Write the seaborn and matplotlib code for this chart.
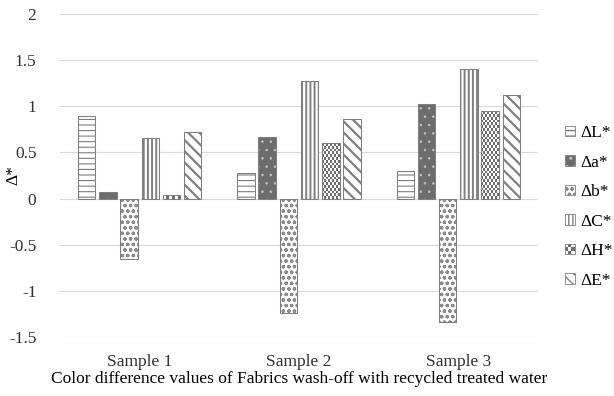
import numpy as np
import pandas as pd
import matplotlib
matplotlib.use("Agg")
import matplotlib.pyplot as plt
import matplotlib.colors as mcolors
from matplotlib.patches import Rectangle, Patch
from matplotlib.legend_handler import HandlerBase
import seaborn as sns

# ---------------- data ----------------
samples = ["Sample 1", "Sample 2", "Sample 3"]
params = ["ΔL*", "Δa*", "Δb*", "ΔC*", "ΔH*", "ΔE*"]
dL = [0.90, 0.28, 0.30]
da = [0.07, 0.67, 1.03]
db = [-0.66, -1.24, -1.34]
dC = [0.66, 1.27, 1.40]
dH = [0.04, 0.60, 0.95]
dE = [0.72, 0.86, 1.12]
yticks = [-1.5, -1, -0.5, 0, 0.5, 1, 1.5, 2]
xlabel = "Color difference values of Fabrics wash-off with recycled treated water"
ylabel = "Δ*"

series = [dL, da, db, dC, dH, dE]
df = pd.DataFrame(
    [(s, p, v[i]) for p, v in zip(params, series) for i, s in enumerate(samples)],
    columns=["Sample", "Param", "Value"],
)

plt.rcParams["font.family"] = ["Liberation Serif", "DejaVu Serif"]
plt.rcParams["axes.unicode_minus"] = False
FS = 12.5
EDGE = "#7f7f7f"
DARK = "#6d6d6d"

fig = plt.figure(figsize=(6.14, 3.96), dpi=100)
ax = fig.add_axes([60 / 614, 1 - 337 / 396, 478 / 614, 323 / 396])

sns.barplot(data=df, x="Sample", y="Value", hue="Param", order=samples,
            hue_order=params, palette=["white"] * 6, saturation=1,
            width=0.8, gap=0.18, edgecolor=EDGE, linewidth=0.75,
            errorbar=None, legend=False, ax=ax)

ax.set_ylim(-1.5, 2)
ax.set_yticks(yticks)
ax.set_yticklabels([f"{v:g}" for v in yticks])
ax.set_axisbelow(True)
ax.grid(axis="y", color="#d9d9d9", linewidth=0.8)
ax.grid(axis="x", visible=False)
for s in ax.spines.values():
    s.set_visible(False)
ax.tick_params(axis="both", length=0, labelsize=FS, colors="#303030")
ax.tick_params(axis="y", pad=17)
ax.tick_params(axis="x", pad=12)
ax.set_xlabel(xlabel, fontsize=FS, color="black")
ax.set_ylabel(ylabel, fontsize=FS, color="black")
ax.xaxis.set_label_coords(0.5, -0.105)
ax.yaxis.set_label_coords(-0.081, 0.5)


def set_hlw(p, w):
    if hasattr(p, "set_hatch_linewidth"):
        p.set_hatch_linewidth(w)
    else:
        p._hatch_linewidth = w


def set_hcolor(p, c):
    if hasattr(p, "set_hatchcolor"):
        p.set_hatchcolor(c)
    else:
        p._hatch_color = mcolors.to_rgba(c)


styles = {
    "ΔL*": dict(face="white", hatch="---", hc=EDGE, hlw=0.8),
    "Δa*": dict(face=DARK, hatch="..", hc="#c0c0c0", hlw=0.6),
    "Δb*": dict(face="white", hatch="ooo", hc="#8a8a8a", hlw=0.9),
    "ΔC*": dict(face="white", hatch="||||", hc="#808080", hlw=1.4),
    "ΔH*": dict(face="none", hatch=None, hc=EDGE, hlw=1.0),
    "ΔE*": dict(face="white", hatch="\\\\\\", hc="#808080", hlw=1.6),
}

fig.canvas.draw()
for cont, p in zip(ax.containers, params):
    st = styles[p]
    for bar in cont.patches:
        bar.set_facecolor(st["face"])
        bar.set_edgecolor(EDGE)
        bar.set_linewidth(0.75)
        if st["hatch"]:
            bar.set_hatch(st["hatch"])
            set_hcolor(bar, st["hc"])
            set_hlw(bar, st["hlw"])
        if p == "ΔH*":
            bar.set_zorder(2)
            x0, y0 = bar.get_x(), bar.get_y()
            w, h = bar.get_width(), bar.get_height()
            xa, xb = sorted([x0, x0 + w])
            ya, yb = sorted([y0, y0 + h])
            (px0, py0), (px1, py1) = ax.transData.transform([(xa, ya), (xb, yb)])
            cell = 2.8
            nx = max(1, int(round(abs(px1 - px0) / cell)))
            ny = max(1, int(round(abs(py1 - py0) / cell)))
            chk = (np.add.outer(np.arange(ny), np.arange(nx)) % 2).astype(float)
            cmap = mcolors.ListedColormap(["white", DARK])
            im = ax.imshow(chk, extent=(xa, xb, ya, yb), origin="lower",
                           cmap=cmap, interpolation="nearest", aspect="auto",
                           zorder=1.5)
            im.set_clip_path(bar)
ax.set_xlim(-0.5, 2.5)
ax.set_ylim(-1.5, 2)
ax.set_aspect("auto")


# ---------- legend ----------
class HandlerChecker(HandlerBase):
    def create_artists(self, legend, orig_handle, xdescent, ydescent,
                       width, height, fontsize, trans):
        arts = []
        n = 3
        cw, ch = width / n, height / n
        for i in range(n):
            for j in range(n):
                c = DARK if (i + j) % 2 else "white"
                arts.append(Rectangle((-xdescent + i * cw, -ydescent + j * ch),
                                      cw, ch, facecolor=c, edgecolor="none",
                                      transform=trans))
        arts.append(Rectangle((-xdescent, -ydescent), width, height,
                              facecolor="none", edgecolor=EDGE, lw=0.6,
                              transform=trans))
        return arts


handles = []
handler_map = {}
for p in params:
    st = styles[p]
    if p == "ΔH*":
        h = Patch(facecolor="white", edgecolor=EDGE, label=p)
        handler_map[h] = HandlerChecker()
    else:
        h = Patch(facecolor=st["face"], edgecolor=EDGE, hatch=st["hatch"],
                  linewidth=0.6, label=p)
        set_hcolor(h, st["hc"])
        set_hlw(h, min(st["hlw"], 0.9))
    handles.append(h)

fig.legend(handles=handles, labels=params, handler_map=handler_map,
           loc="center left", bbox_to_anchor=(565 / 614, 1 - 207 / 396),
           frameon=False, fontsize=FS, borderpad=0, borderaxespad=0,
           handlelength=0.55, handleheight=0.55, handletextpad=0.35,
           labelspacing=0.78)

fig.savefig("out.png", dpi=100)
